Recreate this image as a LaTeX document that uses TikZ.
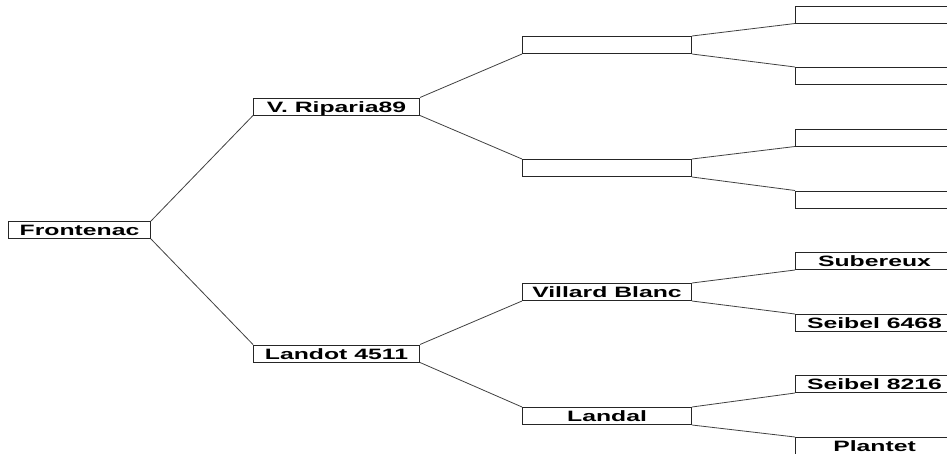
\documentclass[tikz,border=0pt]{standalone}
\usepackage{fontspec}
\setmainfont{Liberation Sans}
\newfontfamily\boxfont[FakeStretch=1.65]{Liberation Sans}
\begin{document}
\begin{tikzpicture}[x=1pt,y=-1pt,
  pbox/.style={draw=black!85, line width=1pt, fill=white, minimum height=17pt,
    inner sep=0pt, anchor=north west,
    font=\boxfont\bfseries\fontsize{15}{15}\selectfont, text height=11pt, text depth=0pt},
  link/.style={draw=black!75, line width=0.8pt}]
\useasboundingbox (0,0) rectangle (947,453);
\clip (0,0) rectangle (947,453);
% level 1
\node[pbox, minimum width=142pt] (f) at (8,221) {Frontenac};
% level 2
\node[pbox, minimum width=166pt] (vr) at (253,97.5) {V. Riparia89};
\node[pbox, minimum width=166pt] (la) at (253,344.5) {Landot 4511};
% level 3
\node[pbox, minimum width=169pt] (e1) at (522,36) {};
\node[pbox, minimum width=169pt] (e2) at (522,159) {};
\node[pbox, minimum width=169pt] (vb) at (522,283) {Villard Blanc};
\node[pbox, minimum width=169pt] (ld) at (522,407) {Landal};
% level 4
\node[pbox, minimum width=158pt] (g1) at (795,5.5) {};
\node[pbox, minimum width=158pt] (g2) at (795,67) {};
\node[pbox, minimum width=158pt] (g3) at (795,128.5) {};
\node[pbox, minimum width=158pt] (g4) at (795,190.5) {};
\node[pbox, minimum width=158pt] (su) at (795,252) {Subereux};
\node[pbox, minimum width=158pt] (s6) at (795,314) {Seibel 6468};
\node[pbox, minimum width=158pt] (s8) at (795,375) {Seibel 8216};
\node[pbox, minimum width=158pt] (pl) at (795,437) {Plantet};
% connectors
\draw[link] (f.north east) -- (vr.south west);
\draw[link] (f.south east) -- (la.north west);
\draw[link] (vr.north east) -- (e1.south west);
\draw[link] (vr.south east) -- (e2.north west);
\draw[link] (la.north east) -- (vb.south west);
\draw[link] (la.south east) -- (ld.north west);
\draw[link] (e1.north east) -- (g1.south west);
\draw[link] (e1.south east) -- (g2.north west);
\draw[link] (e2.north east) -- (g3.south west);
\draw[link] (e2.south east) -- (g4.north west);
\draw[link] (vb.north east) -- (su.south west);
\draw[link] (vb.south east) -- (s6.north west);
\draw[link] (ld.north east) -- (s8.south west);
\draw[link] (ld.south east) -- (pl.north west);
\end{tikzpicture}
\end{document}
